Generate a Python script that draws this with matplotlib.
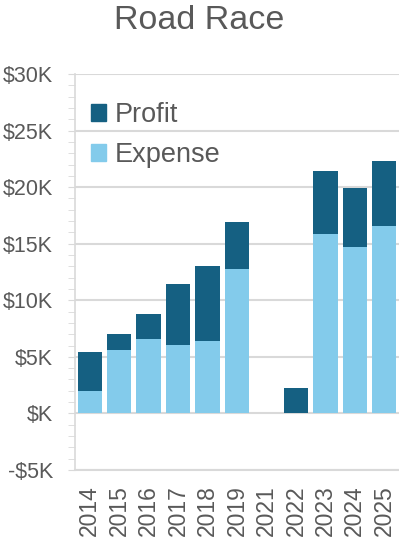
import matplotlib
matplotlib.use("Agg")
import matplotlib.pyplot as plt
from matplotlib.ticker import MultipleLocator, FuncFormatter
from matplotlib.patches import Patch

years = ["2014", "2015", "2016", "2017", "2018", "2019", "2021", "2022", "2023", "2024", "2025"]
expense = [2000, 5600, 6600, 6050, 6400, 12800, 0, 0, 15900, 14750, 16600]
profit = [3450, 1400, 2200, 5350, 6600, 4150, 0, 2270, 5500, 5150, 5700]

DARK = "#156082"
LIGHT = "#83CBEB"
TEXT = "#595959"
GRID = "#D9D9D9"

plt.rcParams["font.family"] = ["Liberation Sans", "DejaVu Sans"]

fig = plt.figure(figsize=(3.99, 5.5), dpi=100)
ax = fig.add_axes([75 / 399, 80 / 550, 324 / 399, 396 / 550])

x = range(len(years))
ax.bar(x, expense, width=0.83, color=LIGHT, zorder=3)
ax.bar(x, profit, width=0.83, bottom=expense, color=DARK, zorder=3)

ax.set_xlim(-0.5, len(years) - 0.5)
ax.set_ylim(-5000, 30000)
ax.yaxis.set_major_locator(MultipleLocator(5000))
ax.yaxis.set_minor_locator(MultipleLocator(1000))


def kfmt(v, pos):
    k = int(round(v / 1000))
    if k == 0:
        return "$K"
    if k < 0:
        return f"-${-k}K"
    return f"${k}K"


ax.yaxis.set_major_formatter(FuncFormatter(kfmt))
ax.grid(axis="y", which="major", color=GRID, linewidth=1.5, zorder=0)

ax.set_xticks(list(x))
ax.set_xticklabels(years, rotation=90)

for s in ["top", "right"]:
    ax.spines[s].set_visible(False)
ax.spines["left"].set_color(GRID)
ax.spines["bottom"].set_color(GRID)
ax.spines["left"].set_linewidth(1.2)
ax.spines["bottom"].set_linewidth(1.5)

ax.tick_params(axis="y", which="both", length=5, color=GRID, labelsize=15.5,
               labelcolor=TEXT, pad=11)
ax.tick_params(axis="x", length=0, labelsize=16.5, labelcolor=TEXT, pad=11)

handles = [Patch(color=DARK, label="Profit"), Patch(color=LIGHT, label="Expense")]
ax.legend(handles=handles, loc="upper left", bbox_to_anchor=(-0.025, 0.99),
          frameon=False, fontsize=19.5, labelcolor=TEXT, handlelength=0.55,
          handleheight=0.6, handletextpad=0.3, labelspacing=0.5)

fig.text(0.5, 1 - 29 / 550, "Road Race", ha="center", va="baseline",
         fontsize=24.5, color=TEXT)

fig.savefig("out.png", dpi=100)
